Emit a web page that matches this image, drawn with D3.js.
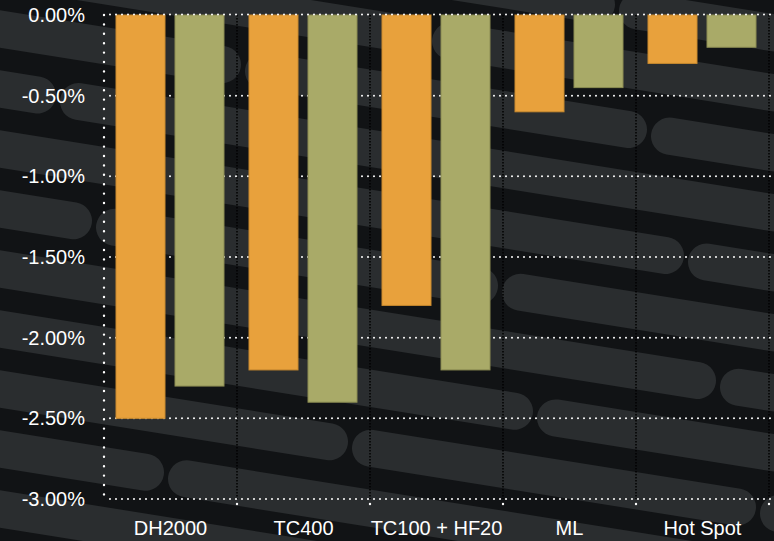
<!DOCTYPE html>
<html>
<head>
<meta charset="utf-8">
<script src="https://cdn.jsdelivr.net/npm/d3@7"></script>
<style>
  html, body { margin: 0; padding: 0; background: #111315; }
  svg { display: block; }
  text { font-family: "Liberation Sans", Arial, Helvetica, sans-serif; fill: #ffffff; }
</style>
</head>
<body>
<svg id="chart" width="774" height="541"></svg>
<script>
// ---- data ----
const categories = ["DH2000", "TC400", "TC100 + HF20", "ML", "Hot Spot"];
const seriesNames = ["orange", "green"];
const orangeValues = [-2.5, -2.2, -1.8, -0.6, -0.3];
const greenValues = [-2.3, -2.4, -2.2, -0.45, -0.2];
const yTickValues = [0, -0.5, -1, -1.5, -2, -2.5, -3];

// ---- decorative backdrop: sloped rounded stripes ----
// lane = stripe centre height where it crosses x = 500
const stripeLanes = [-71, -11, 49, 109, 169, 229, 289, 349, 409, 469, 529, 589, 649];
const stripeBreaks = [
  { lane: -11, x: 617 },
  { lane: 49, x: 430 },
  { lane: 109, x: 243 }, { lane: 109, x: 649 },
  { lane: 169, x: 58 },
  { lane: 229, x: 686 },
  { lane: 289, x: 94 }, { lane: 289, x: 500 },
  { lane: 349, x: 718 },
  { lane: 409, x: 535 },
  { lane: 469, x: 350 }, { lane: 469, x: 758 },
  { lane: 529, x: 166 }
];

const W = 774, H = 541;
const margin = { top: 15, right: 5, bottom: 42, left: 104 };
const svg = d3.select("#chart");

svg.append("rect").attr("width", W).attr("height", H).attr("fill", "#111315");

const slope = 0.16, pivotX = 500, stripeWidth = 37, capR = stripeWidth / 2, notch = 2;
const laneY = (lane, x) => lane + slope * (x - pivotX);
const stripeG = svg.append("g").attr("class", "backdrop");
stripeLanes.forEach(lane => {
  const cuts = stripeBreaks.filter(b => b.lane === lane).map(b => b.x).sort((a, b) => a - b);
  const edges = [-60, ...cuts, W + 60];
  for (let i = 0; i < edges.length - 1; i++) {
    const xa = i === 0 ? edges[i] : edges[i] + notch + capR;
    const xb = i === edges.length - 2 ? edges[i + 1] : edges[i + 1] - notch - capR;
    stripeG.append("line")
      .attr("x1", xa).attr("y1", laneY(lane, xa))
      .attr("x2", xb).attr("y2", laneY(lane, xb))
      .attr("stroke", "#2a2d2f")
      .attr("stroke-width", stripeWidth)
      .attr("stroke-linecap", "round");
  }
});

// ---- scales ----
const innerW = 665;
const x0 = d3.scaleBand().domain(categories).range([margin.left, margin.left + innerW]).padding(0);
const x1 = d3.scaleBand().domain(seriesNames).range([12, 120]).paddingInner(10 / 59).paddingOuter(0);
const y = d3.scaleLinear().domain([-3, 0]).range([499, margin.top]);

const locale = d3.formatLocale({ decimal: ".", thousands: ",", grouping: [3], currency: ["$", ""], minus: "-" });
const fmt = v => locale.format(".2f")(v) + "%";

// ---- vertical category separators (black dotted) ----
const sepX = categories.map(c => x0(c) + x0.bandwidth());
svg.append("g").selectAll("line").data(sepX).join("line")
  .attr("x1", d => d).attr("x2", d => d)
  .attr("y1", y(0)).attr("y2", y(-3))
  .attr("stroke", "#000")
  .attr("stroke-width", 1.5)
  .attr("stroke-dasharray", "1.5 1.5");

// ---- horizontal gridlines (white dotted) ----
const gridG = svg.append("g");
gridG.selectAll("line").data(yTickValues.filter(v => v !== 0)).join("line")
  .attr("x1", margin.left + 6).attr("x2", W)
  .attr("y1", d => y(d)).attr("y2", d => y(d))
  .attr("stroke", "#fff")
  .attr("stroke-width", 2)
  .attr("stroke-linecap", "round")
  .attr("stroke-dasharray", "0 6");

// ---- bars ----
const rows = categories.map((c, i) => ({ cat: c, values: [
  { key: "orange", v: orangeValues[i] },
  { key: "green", v: greenValues[i] }
] }));
const fills = { orange: "#e8a13c", green: "#a9aa68" };
const strokes = { orange: "#c98a2e", green: "#8b8c52" };

svg.append("g").selectAll("g").data(rows).join("g")
  .attr("transform", d => `translate(${x0(d.cat)},0)`)
  .selectAll("rect").data(d => d.values).join("rect")
  .attr("x", d => x1(d.key))
  .attr("width", x1.bandwidth())
  .attr("y", y(0))
  .attr("height", d => y(d.v) - y(0))
  .attr("fill", d => fills[d.key])
  .attr("stroke", d => strokes[d.key])
  .attr("stroke-width", 1);

// ---- zero line on top of bars ----
svg.append("line")
  .attr("x1", margin.left + 6).attr("x2", W)
  .attr("y1", y(0) - 0.5).attr("y2", y(0) - 0.5)
  .attr("stroke", "#fff")
  .attr("stroke-width", 2)
  .attr("stroke-linecap", "round")
  .attr("stroke-dasharray", "0 6");

// ---- y axis (white dotted) ----
svg.append("line")
  .attr("x1", margin.left).attr("x2", margin.left)
  .attr("y1", y(0)).attr("y2", y(-3) + 4)
  .attr("stroke", "#fff")
  .attr("stroke-width", 2.4)
  .attr("stroke-linecap", "round")
  .attr("stroke-dasharray", "0 9.4");

// bottom axis ticks at separators
svg.append("g").selectAll("line").data(sepX).join("line")
  .attr("x1", d => d).attr("x2", d => d)
  .attr("y1", y(-3) + 5).attr("y2", y(-3) + 5)
  .attr("stroke", "#fff")
  .attr("stroke-width", 2.4)
  .attr("stroke-linecap", "round");

// y tick labels
svg.append("g").selectAll("text").data(yTickValues).join("text")
  .attr("x", 85)
  .attr("y", d => y(d))
  .attr("dy", "0.35em")
  .attr("text-anchor", "end")
  .attr("font-size", 20)
  .text(d => fmt(d));

// x category labels
svg.append("g").selectAll("text").data(categories).join("text")
  .attr("x", d => x0(d) + x0.bandwidth() / 2)
  .attr("y", 535)
  .attr("text-anchor", "middle")
  .attr("font-size", 20)
  .text(d => d);
</script>
</body>
</html>
